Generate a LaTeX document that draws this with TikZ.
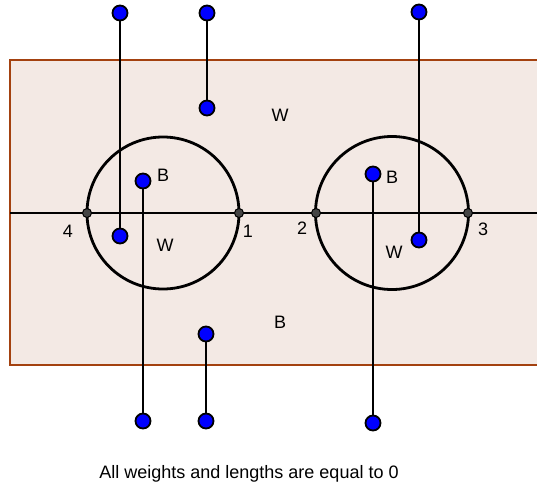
\documentclass[tikz,border=0pt]{standalone}
\usepackage{fontspec}
\setmainfont{Liberation Sans}
\definecolor{boxfill}{HTML}{F3E9E4}
\definecolor{boxedge}{HTML}{A3410F}
\definecolor{vblue}{HTML}{0000FF}
\definecolor{vgray}{HTML}{444444}
\pgfdeclarelayer{bg}
\pgfsetlayers{bg,main}
\begin{document}
\begin{tikzpicture}[x=1pt,y=-1pt,
  edge/.style={line width=2.8pt,black},
  bdot/.style={circle,fill=vblue,draw=black,line width=1.8pt,minimum size=15pt,inner sep=0pt},
  gdot/.style={circle,fill=vgray,draw=black,line width=1pt,minimum size=9pt,inner sep=0pt},
  lbl/.style={inner sep=0pt,font=\fontsize{18}{20}\selectfont}]
\useasboundingbox (0,0) rectangle (537,485);
% blue vertices
\node[bdot] (t1) at (120,13) {};
\node[bdot] (m1) at (120,236) {};
\node[bdot] (t2) at (207,13) {};
\node[bdot] (m2) at (207,108) {};
\node[bdot] (t3) at (419,12) {};
\node[bdot] (m3) at (419,240) {};
\node[bdot] (m4) at (143,181) {};
\node[bdot] (b4) at (143,421) {};
\node[bdot] (m5) at (206,334) {};
\node[bdot] (b5) at (206,421) {};
\node[bdot] (m6) at (373,174) {};
\node[bdot] (b6) at (373,423) {};
% gray vertices
\node[gdot] (v4) at (87,213) {};
\node[gdot] (v1) at (239,213) {};
\node[gdot] (v2) at (316,213) {};
\node[gdot] (v3) at (468,213) {};
\coordinate (L) at (10,213);
\coordinate (R) at (537,213);
\coordinate (c1) at (163,213);
\coordinate (c2) at (392,213);
\begin{pgfonlayer}{bg}
\fill[boxfill] (10,60) rectangle (540,365);
\draw[boxedge,line width=2.6pt] (540,60) -- (10,60) -- (10,365) -- (540,365);
\draw[edge] (L) -- (R);
\draw[edge] (c1) circle (76);
\draw[edge] (c2) circle (76.5);
\draw[edge] (t1.center) -- (m1.center);
\draw[edge] (t2.center) -- (m2.center);
\draw[edge] (t3.center) -- (m3.center);
\draw[edge] (m4.center) -- (b4.center);
\draw[edge] (m5.center) -- (b5.center);
\draw[edge] (m6.center) -- (b6.center);
\end{pgfonlayer}
% labels
\node[lbl] (lw1) at (280,115) {W};
\node[lbl] (lb1) at (163,175) {B};
\node[lbl] (lw2) at (165,245) {W};
\node[lbl] (l4) at (68,231) {4};
\node[lbl] (l1) at (248,231) {1};
\node[lbl] (l2) at (302,228) {2};
\node[lbl] (lb2) at (392,177) {B};
\node[lbl] (lw3) at (394,252) {W};
\node[lbl] (l3) at (483,229) {3};
\node[lbl] (lb3) at (280,322) {B};
\node[lbl,anchor=base] (cap) at (249,478) {All weights and lengths are equal to 0};
\end{tikzpicture}
\end{document}
